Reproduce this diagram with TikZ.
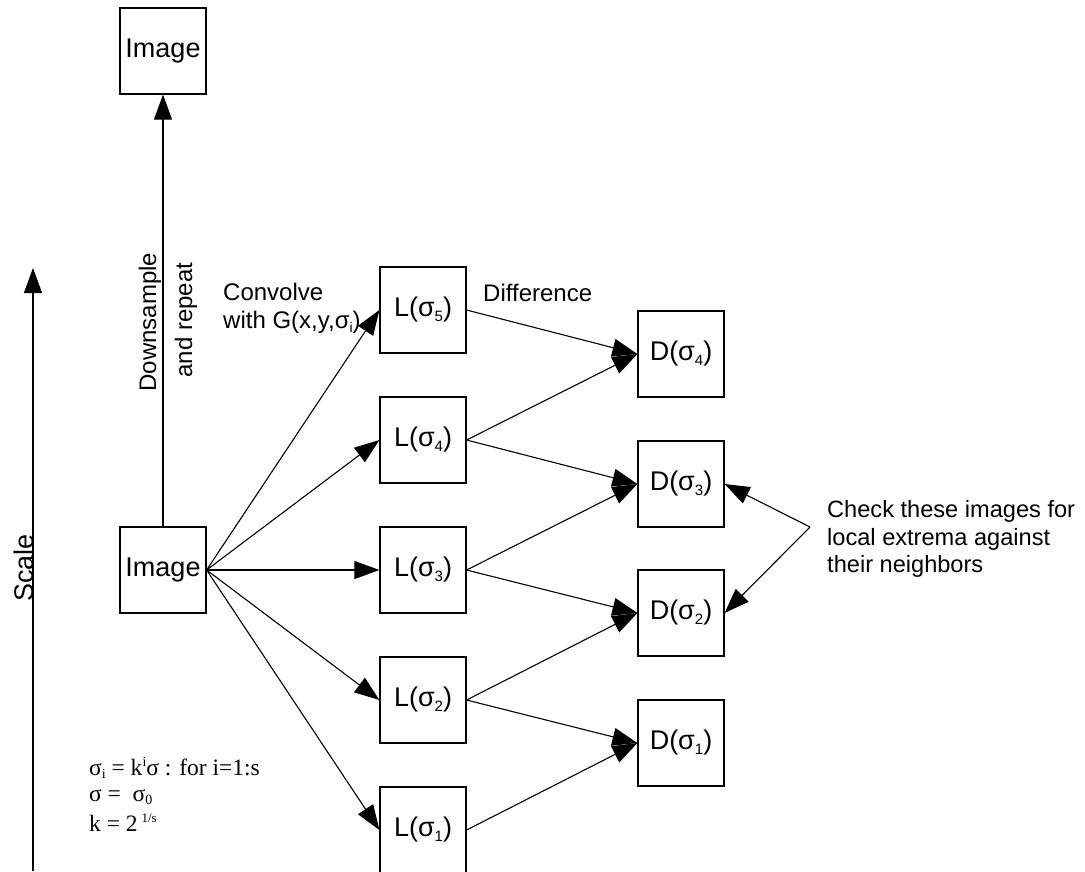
\documentclass[tikz,border=0pt]{standalone}
\usepackage{fontspec}
\setmainfont{Liberation Sans}
\newfontfamily\seriffont{Liberation Serif}
\usetikzlibrary{arrows.meta}
% sigma with a small lowered index
\newcommand{\sgm}[1]{σ\raisebox{-0.35ex}{\fontsize{15}{15}\selectfont #1}}
\begin{document}
\begin{tikzpicture}[x=1pt,y=-1pt,
  every node/.style={font=\fontsize{24}{28}\selectfont},
  imgbox/.style={draw,line width=1.2pt,minimum size=86pt,inner sep=0pt,font=\fontsize{27}{30}\selectfont},
  arr/.style={line width=1.1pt,-{Triangle[length=25pt,width=18pt]}},
  lbl/.style={inner sep=0pt,anchor=west,align=left},
  eqn/.style={lbl,font=\seriffont\fontsize{23.5}{28}\selectfont}]
\useasboundingbox (0,0) rectangle (1085,871);

% input image and its downsampled copy
\node[imgbox] (img) at (163,570) {Image};
\node[imgbox] (imgtop) at (163,51) {Image};

% Gaussian-blurred images
\node[imgbox] (L5) at (423,310) {L(\sgm{5})};
\node[imgbox] (L4) at (423,440) {L(\sgm{4})};
\node[imgbox] (L3) at (423,570) {L(\sgm{3})};
\node[imgbox] (L2) at (423,700) {L(\sgm{2})};
\node[imgbox] (L1) at (423,830) {L(\sgm{1})};

% difference-of-Gaussian images
\node[imgbox] (D4) at (681,354) {D(\sgm{4})};
\node[imgbox] (D3) at (681,484) {D(\sgm{3})};
\node[imgbox] (D2) at (681,613) {D(\sgm{2})};
\node[imgbox] (D1) at (681,743) {D(\sgm{1})};

% scale axis
\coordinate (sbot) at (33,871);
\coordinate (stop) at (33,268);
\draw[arr] (sbot) -- (stop);
\node[rotate=90,anchor=base,inner sep=0pt,font=\fontsize{27}{30}\selectfont] (scale) at (34,568) {Scale};

% downsample step
\draw[arr] (img.north) -- (imgtop.south);
\node[rotate=90,anchor=base,inner sep=0pt] (ds1) at (156,322) {Downsample};
\node[rotate=90,anchor=base,inner sep=0pt] (ds2) at (192,320) {and repeat};

% convolution
\foreach \n in {L5,L4,L3,L2,L1} \draw[arr] (img.east) -- (\n.west);
\node[lbl] (conv) at (223,308) {Convolve\\with G(x,y,σ\raisebox{-0.35ex}{\fontsize{14}{14}\selectfont i})};

% differences
\draw[arr] (L5.east) -- (D4.west);
\draw[arr] (L4.east) -- (D4.west);
\draw[arr] (L4.east) -- (D3.west);
\draw[arr] (L3.east) -- (D3.west);
\draw[arr] (L3.east) -- (D2.west);
\draw[arr] (L2.east) -- (D2.west);
\draw[arr] (L2.east) -- (D1.west);
\draw[arr] (L1.east) -- (D1.west);
\node[lbl] (diff) at (483,293) {Difference};

% extrema check
\coordinate (chk) at (810,527);
\draw[arr] (chk) -- (D3.east);
\draw[arr] (chk) -- (D2.east);
\node[lbl,font=\fontsize{23.6}{27.5}\selectfont] (chktxt) at (827,539) {Check these images for\\local extrema against\\their neighbors};

% parameter definitions
\node[eqn] (eq1) at (89,768) {σ\raisebox{-0.35ex}{\fontsize{14}{14}\selectfont i} = k\raisebox{0.8ex}{\fontsize{14}{14}\selectfont i}σ : for i=1:s};
\node[eqn] (eq2) at (89,797) {σ =\ \ σ\raisebox{-0.35ex}{\fontsize{14}{14}\selectfont 0}};
\node[eqn] (eq3) at (89,823) {k = 2\,\raisebox{0.8ex}{\fontsize{13}{13}\selectfont 1/s}};
\end{tikzpicture}
\end{document}
